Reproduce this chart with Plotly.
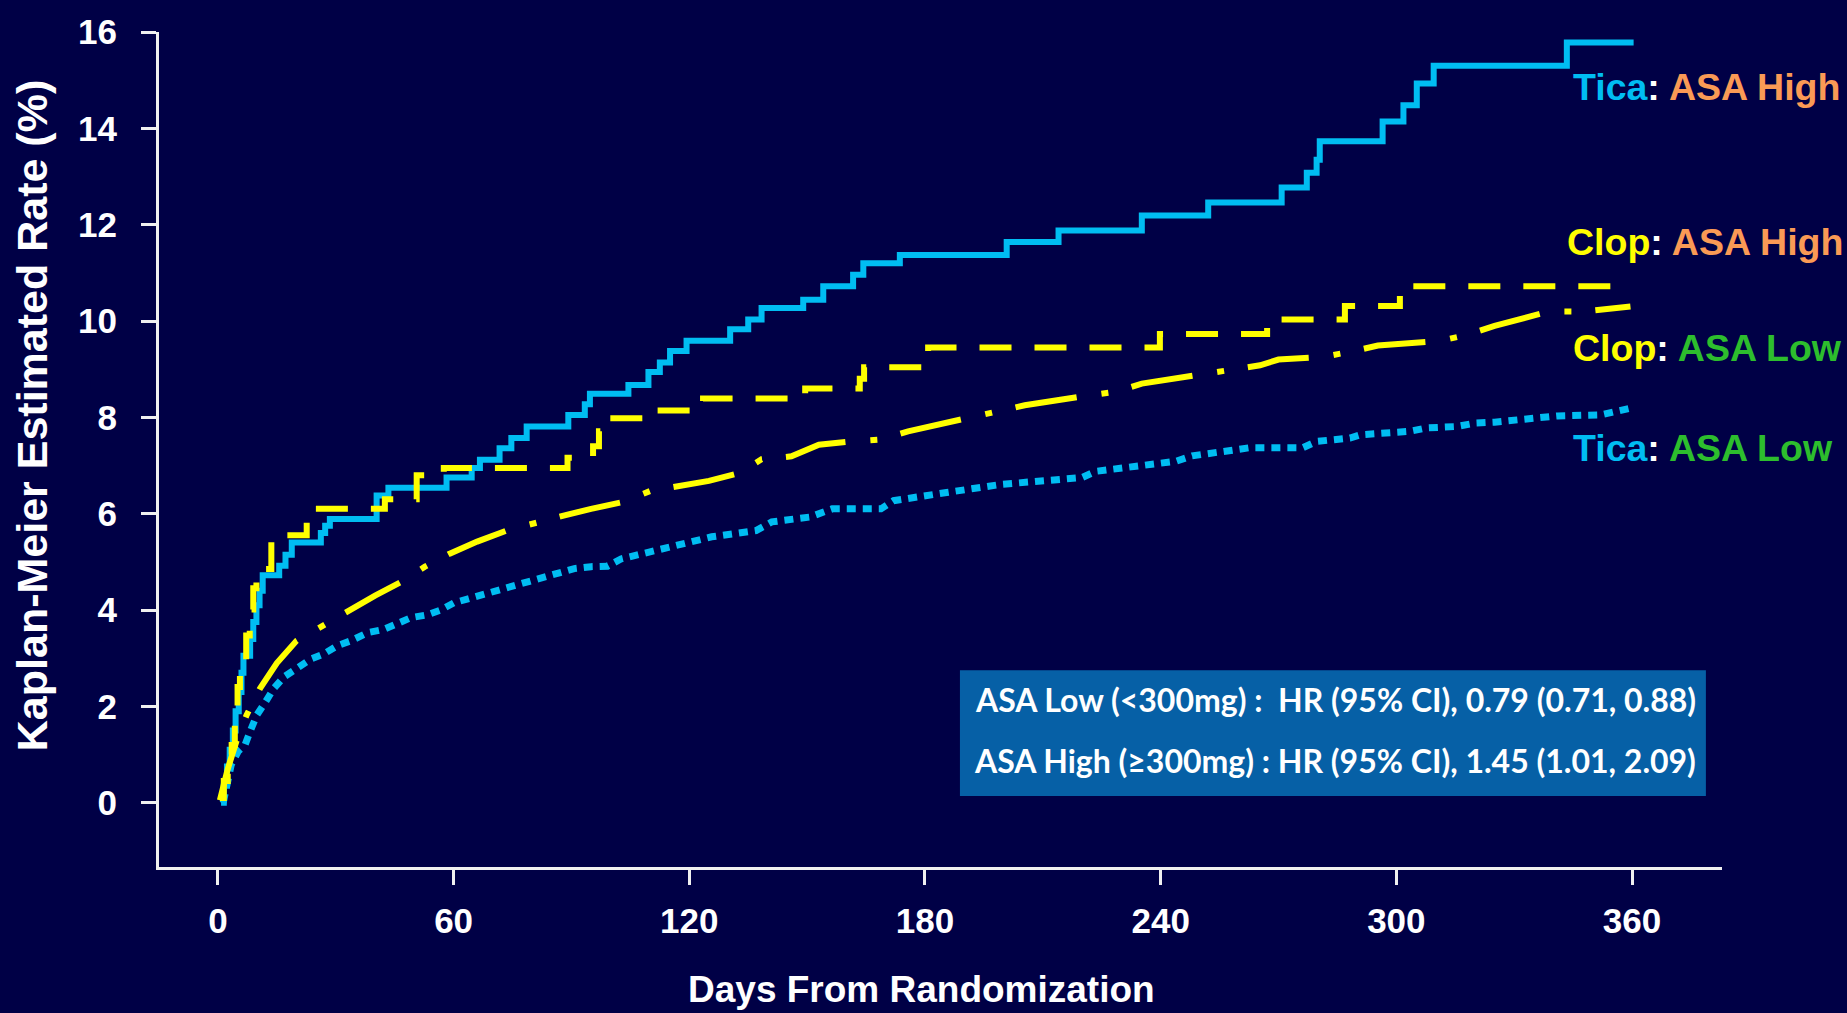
import plotly.graph_objects as go

# ---------------- data ----------------
tica_high_day = [0.8, 1.5, 2.3, 3.0, 3.8, 4.5, 5.3, 6.0, 6.5, 8.2, 9.0, 9.8, 10.6, 11.4,
                 15.6, 17.2, 18.8, 26.2, 27.3, 28.5, 40.4, 43.4, 58.2, 64.6, 66.7, 71.7,
                 74.7, 78.6, 89.2, 93.4, 94.7, 104.5, 109.6, 112.5, 115.1, 119.3, 130.4,
                 135.0, 138.4, 149.0, 154.1, 161.7, 164.3, 173.6, 200.8, 214.0, 235.2,
                 252.1, 270.8, 277.2, 279.7, 280.5, 296.5, 301.8, 305.2, 309.5, 343.4, 360.4]
tica_high_rate = [0.0, 0.35, 0.75, 1.1, 1.5, 1.9, 2.3, 2.7, 3.05, 3.4, 3.75, 4.1, 4.4, 4.72,
                  4.92, 5.15, 5.40, 5.60, 5.75, 5.89, 6.38, 6.54, 6.75, 6.95, 7.12, 7.36,
                  7.57, 7.81, 8.05, 8.27, 8.49, 8.67, 8.94, 9.14, 9.38, 9.59, 9.83,
                  10.03, 10.27, 10.44, 10.72, 10.96, 11.20, 11.37, 11.64, 11.88, 12.19,
                  12.46, 12.77, 13.08, 13.35, 13.73, 14.14, 14.48, 14.93, 15.30, 15.78, 15.78]

clop_high_day = [0.5, 1.5, 2.5, 3.5, 4.3, 5.0, 5.6, 7.2, 8.1, 9.0, 9.8, 13.6, 22.6, 42.5,
                 50.6, 57.5, 89.0, 95.5, 97.0, 99.5, 108.3, 120.6, 123.5, 149.5, 163.4,
                 164.5, 180.8, 239.8, 267.1, 286.9, 300.9, 360.0]
clop_high_rate = [0.1, 0.45, 0.8, 1.2, 1.82, 2.4, 2.92, 3.47, 4.01, 4.45, 4.85, 5.55, 6.10, 6.30,
                  6.80, 6.95, 7.16, 7.40, 7.71, 7.98, 8.14, 8.25, 8.39, 8.60, 8.80,
                  9.04, 9.45, 9.73, 10.03, 10.31, 10.72, 10.72]

clop_low_day = [0.5, 2.5, 5.0, 7.3, 10.7, 15.0, 20.0, 26.4, 32.8, 40.0, 46.8, 52.7, 59.0,
                66.0, 73.5, 80.7, 88.0, 95.0, 103.0, 110.0, 117.2, 125.0, 132.9, 138.4,
                146.0, 153.0, 161.3, 168.5, 175.7, 191.4, 198.2, 205.4, 219.5, 228.4,
                235.2, 250.8, 258.1, 265.3, 270.0, 281.0, 288.2, 295.3, 311.1, 317.9,
                325.0, 339.0, 348.0, 359.6]
clop_low_rate = [0.05, 0.7, 1.35, 1.82, 2.37, 2.90, 3.36, 3.67, 3.98, 4.30, 4.59, 4.90, 5.17,
                 5.42, 5.65, 5.79, 5.96, 6.10, 6.24, 6.47, 6.58, 6.68, 6.85, 7.13,
                 7.19, 7.43, 7.50, 7.54, 7.71, 7.98, 8.12, 8.25, 8.43, 8.53,
                 8.70, 8.90, 9.01, 9.08, 9.20, 9.25, 9.36, 9.49, 9.59, 9.71,
                 9.90, 10.20, 10.20, 10.30]

tica_low_day = [1.35, 3.4, 5.2, 6.9, 8.2, 9.9, 12.1, 14.2, 16.8, 20.2, 23.6, 27.0, 30.4, 33.8,
                38.1, 42.3, 45.7, 49.1, 53.3, 56.7, 60.1, 64.4, 67.8, 71.6, 75.4, 79.7,
                83.5, 86.9, 90.7, 95.0, 99.2, 102.6, 106.0, 110.0, 121.0, 125.7, 137.0,
                141.0, 150.7, 156.4, 168.8, 172.0, 185.5, 196.0, 199.6, 220.0, 223.5,
                244.0, 248.0, 259.3, 262.7, 276.2, 279.7, 288.2, 291.0, 303.5, 307.7,
                315.3, 320.0, 325.0, 331.4, 341.0, 352.0, 359.6]
tica_low_rate = [0.0, 0.79, 1.07, 1.20, 1.48, 1.82, 2.09, 2.37, 2.61, 2.81, 2.98, 3.09, 3.26, 3.36,
                 3.53, 3.60, 3.74, 3.84, 3.90, 4.00, 4.15, 4.25, 4.35, 4.42, 4.52, 4.62,
                 4.69, 4.76, 4.86, 4.90, 4.91, 5.06, 5.13, 5.18, 5.41, 5.52, 5.65,
                 5.83, 5.93, 6.10, 6.10, 6.27, 6.44, 6.54, 6.61, 6.75, 6.88,
                 7.09, 7.20, 7.33, 7.37, 7.37, 7.50, 7.57, 7.64, 7.71, 7.78,
                 7.81, 7.88, 7.90, 7.95, 8.03, 8.05, 8.19]

x_ticks = [0, 60, 120, 180, 240, 300, 360]
y_ticks = [0, 2, 4, 6, 8, 10, 12, 14, 16]

labels = [
    ("Tica", "ASA High", 344.5, 14.85),
    ("Clop", "ASA High", 343.0, 11.65),
    ("Clop", "ASA Low", 344.5, 9.43),
    ("Tica", "ASA Low", 344.5, 7.37),
]
hr_lines = [
    "ASA Low (<300mg) :  HR (95% CI), 0.79 (0.71, 0.88)",
    "ASA High (\u2265300mg) : HR (95% CI), 1.45 (1.01, 2.09)",
]

# ---------------- styling ----------------
BG = "#000046"
CYAN = "#00BDF2"
YELLOW = "#FFFF00"
ORANGE = "#FA9A55"
GREEN = "#2DBE2D"
FONT = "Liberation Sans, Arial, sans-serif"
drug_color = {"Tica": CYAN, "Clop": YELLOW}
dose_color = {"ASA High": ORANGE, "ASA Low": GREEN}

fig = go.Figure()
fig.add_trace(go.Scatter(x=tica_low_day, y=tica_low_rate, mode="lines",
                         line=dict(color=CYAN, width=7, dash="9px,7px")))
fig.add_trace(go.Scatter(x=tica_high_day, y=tica_high_rate, mode="lines",
                         line=dict(color=CYAN, width=6, shape="hv")))
fig.add_trace(go.Scatter(x=clop_low_day, y=clop_low_rate, mode="lines",
                         line=dict(color=YELLOW, width=6, dash="62px,25px,7px,24px")))
fig.add_trace(go.Scatter(x=clop_high_day, y=clop_high_rate, mode="lines",
                         line=dict(color=YELLOW, width=6, shape="hv", dash="32px,23px")))

annotations = []
for drug, dose, lx, ly in labels:
    annotations.append(dict(
        x=lx, y=ly, xref="x", yref="y", xanchor="left", yanchor="middle", showarrow=False,
        text=(f"<span style='color:{drug_color[drug]}'>{drug}</span>"
              f"<span style='color:#FFFFFF'>:</span> "
              f"<span style='color:{dose_color[dose]}'>{dose}</span>"),
        font=dict(family=FONT, size=37.5, weight="bold"),
    ))

for txt, ty in zip(hr_lines, [2.15, 0.87]):
    annotations.append(dict(
        x=284.5, y=ty, xref="x", yref="y", xanchor="center", yanchor="middle", showarrow=False,
        text=txt, font=dict(family="Lato, sans-serif", size=32, color="#FFFFFF", weight="bold"),
    ))

annotations.append(dict(
    x=-0.0813, y=0.541, xref="paper", yref="paper", xanchor="center", yanchor="middle",
    showarrow=False, textangle=-90, text="Kaplan-Meier Estimated Rate (%)",
    font=dict(family=FONT, size=43, color="#FFFFFF", weight="bold"),
))
annotations.append(dict(
    x=0.488, y=-0.147, xref="paper", yref="paper", xanchor="center", yanchor="middle",
    showarrow=False, text="Days From Randomization",
    font=dict(family=FONT, size=37, color="#FFFFFF", weight="bold"),
))

fig.update_layout(
    width=1847, height=1013, autosize=False,
    margin=dict(l=159, r=125, t=23, b=146, pad=0),
    paper_bgcolor=BG, plot_bgcolor=BG,
    showlegend=False,
    annotations=annotations,
    shapes=[dict(type="rect", xref="x", yref="y", x0=188.9, x1=378.8, y0=0.14, y1=2.75,
                 fillcolor="#0660A6", line=dict(width=0), layer="below")],
    xaxis=dict(range=[-15, 382.9], tickvals=x_ticks, ticktext=[str(v) for v in x_ticks],
               showline=True, linecolor="#F0F0F0", linewidth=3, ticks="outside",
               ticklen=15, tickwidth=3, tickcolor="#F0F0F0", showgrid=False, zeroline=False,
               ticklabelstandoff=6,
               tickfont=dict(family=FONT, size=35, color="#FFFFFF", weight="bold")),
    yaxis=dict(range=[-1.335, 16], tickvals=y_ticks, ticktext=[str(v) for v in y_ticks],
               showline=True, linecolor="#F0F0F0", linewidth=3, ticks="outside",
               ticklen=15, tickwidth=3, tickcolor="#F0F0F0", showgrid=False, zeroline=False,
               ticklabelstandoff=17,
               tickfont=dict(family=FONT, size=35, color="#FFFFFF", weight="bold")),
)

fig.write_html("out.html", config={"displayModeBar": False},
               post_script="document.body.style.margin='0';document.body.style.background='#000046';")
